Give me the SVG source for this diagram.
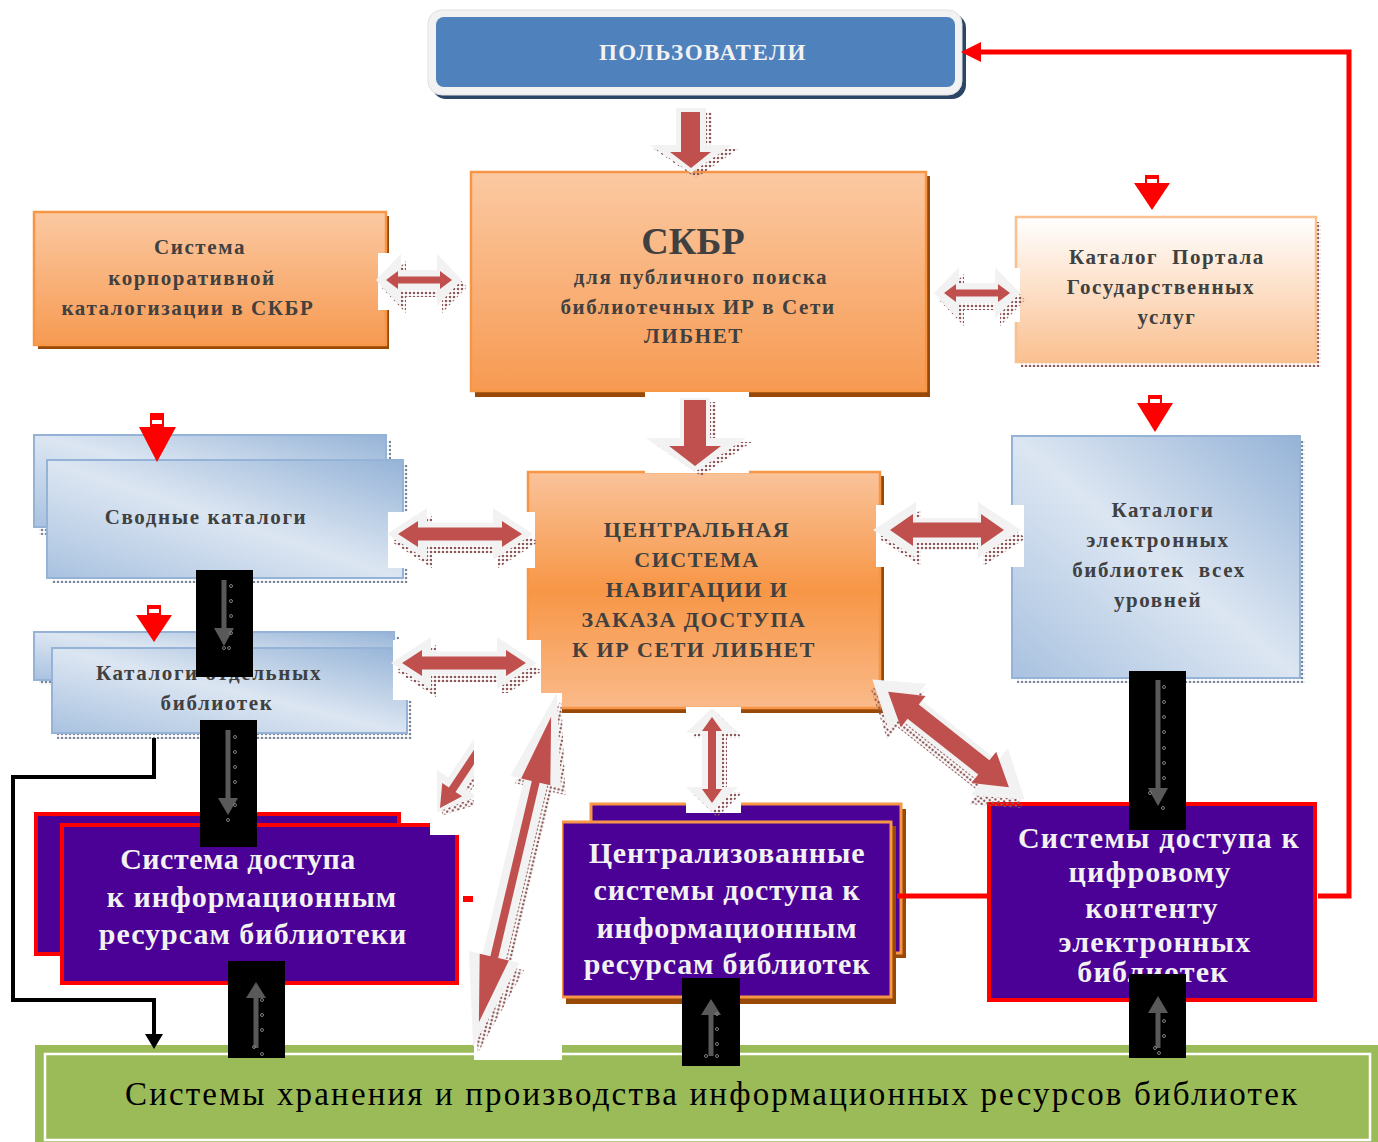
<svg xmlns="http://www.w3.org/2000/svg" width="1378" height="1142" viewBox="0 0 1378 1142">
<defs>
<style>
.t{font-family:"Liberation Serif","Times New Roman",serif;font-weight:bold;text-anchor:middle}
.g{fill:#404040;font-size:21px;letter-spacing:1.6px}
.c{font-size:22px;letter-spacing:1.5px}
.w{fill:#F2F2F2}
.wa{fill:#F2F2F2}
.ra{fill:#C0504D}
.sh{fill:url(#dots)}
.bk{fill:#000}
.ga{stroke:#595959;stroke-width:5;fill:none}
.gh{fill:#595959}
.gd{fill:none;stroke:#7F7F7F;stroke-width:1}
.pr{fill:#4B0096}
.rb{stroke:#FF0000;stroke-width:4}
</style>
<pattern id="dots" width="4" height="4" patternUnits="userSpaceOnUse"><circle cx="2" cy="2" r="1.3" fill="#8C5A5A"/></pattern>
<pattern id="bdots" width="4" height="4" patternUnits="userSpaceOnUse"><circle cx="2" cy="2" r="1.3" fill="#7A8597"/></pattern>
<linearGradient id="or1" x1="0" y1="0" x2="0" y2="1"><stop offset="0" stop-color="#FBC9A2"/><stop offset="1" stop-color="#F79A52"/></linearGradient>
<linearGradient id="or2" x1="0" y1="0" x2="0" y2="1"><stop offset="0" stop-color="#FAC39A"/><stop offset="0.5" stop-color="#F79646"/><stop offset="1" stop-color="#FABA8A"/></linearGradient>
<linearGradient id="or3" x1="0" y1="0" x2="0" y2="1"><stop offset="0" stop-color="#FFFFFF"/><stop offset="1" stop-color="#FAC090"/></linearGradient>
<linearGradient id="bl" x1="1" y1="0" x2="0" y2="1"><stop offset="0" stop-color="#95B3D7"/><stop offset="0.5" stop-color="#DCE6F2"/><stop offset="1" stop-color="#A9C2E0"/></linearGradient>
<clipPath id="c9"><rect x="430" y="728" width="44" height="107"/></clipPath>
</defs>

<!-- nodes -->
<g id="users">
<rect x="432" y="14" width="534" height="85" rx="14" fill="#2B4566"/>
<rect x="428" y="10" width="534" height="85" rx="14" fill="#F2F2F2" stroke="#E0E0E0" stroke-width="1"/>
<rect x="436" y="17" width="519" height="70" rx="8" fill="#4F81BD"/>
<text class="t" x="703" y="60" font-size="23" fill="#F2F2F2" letter-spacing="1.5">ПОЛЬЗОВАТЕЛИ</text>
</g>

<g id="skbr">
<rect x="475" y="176" width="455" height="221" fill="#984807"/>
<rect x="471" y="172" width="455" height="219" fill="url(#or1)" stroke="#F79646" stroke-width="2.5"/>
<text class="t" x="693" y="254" font-size="38" fill="#404040">СКБР</text>
<text class="t g" x="701" y="284">для публичного поиска</text>
<text class="t g" x="698" y="314">библиотечных ИР в Сети</text>
<text class="t g" x="694" y="343">ЛИБНЕТ</text>
</g>

<g id="corp">
<rect x="38" y="216" width="351" height="133" fill="#984807"/>
<rect x="34" y="212" width="352" height="133" fill="url(#or1)" stroke="#F79646" stroke-width="2.5"/>
<text class="t g" x="200" y="254">Система</text>
<text class="t g" x="192" y="285">корпоративной</text>
<text class="t g" x="188" y="315">каталогизации в СКБР</text>
</g>

<g id="portal">
<rect x="1021" y="222" width="300" height="145" fill="url(#dots)"/>
<rect x="1016" y="217" width="300" height="145" fill="url(#or3)" stroke="#FAC090" stroke-width="2.5"/>
<text class="t g" x="1167" y="264" xml:space="preserve">Каталог  Портала</text>
<text class="t g" x="1161" y="294">Государственных</text>
<text class="t g" x="1167" y="324">услуг</text>
</g>

<g id="svodnye">
<rect x="39" y="440" width="352" height="95" fill="url(#bdots)"/>
<rect x="34" y="435" width="352" height="92" fill="url(#bl)" stroke="#95B3D7" stroke-width="2"/>
<rect x="52" y="465" width="356" height="118" fill="url(#bdots)"/>
<rect x="47" y="460" width="356" height="118" fill="url(#bl)" stroke="#95B3D7" stroke-width="2"/>
<text class="t g" x="206" y="524">Сводные каталоги</text>
</g>

<g id="otdelnye">
<rect x="39" y="637" width="360" height="48" fill="url(#bdots)"/>
<rect x="34" y="632" width="360" height="48" fill="url(#bl)" stroke="#95B3D7" stroke-width="2"/>
<rect x="57" y="653" width="355" height="86" fill="url(#bdots)"/>
<rect x="52" y="648" width="355" height="85" fill="url(#bl)" stroke="#95B3D7" stroke-width="2"/>
<text class="t g" x="209" y="680">Каталоги отдельных</text>
<text class="t g" x="217" y="710">библиотек</text>
</g>

<g id="central">
<rect x="532" y="476" width="352" height="237" fill="#984807"/>
<rect x="528" y="472" width="352" height="236" fill="url(#or2)" stroke="#F79646" stroke-width="2.5"/>
<text class="t g c" x="697" y="537">ЦЕНТРАЛЬНАЯ</text>
<text class="t g c" x="697" y="567">СИСТЕМА</text>
<text class="t g c" x="697" y="597">НАВИГАЦИИ И</text>
<text class="t g c" x="694" y="627">ЗАКАЗА ДОСТУПА</text>
<text class="t g c" x="694" y="657">К ИР СЕТИ ЛИБНЕТ</text>
</g>

<g id="elektr">
<rect x="1017" y="441" width="288" height="242" fill="url(#bdots)"/>
<rect x="1012" y="436" width="288" height="242" fill="url(#bl)" stroke="#95B3D7" stroke-width="2"/>
<text class="t g" x="1163" y="517">Каталоги</text>
<text class="t g" x="1158" y="547">электронных</text>
<text class="t g" x="1159" y="577" xml:space="preserve">библиотек  всех</text>
<text class="t g" x="1158" y="607">уровней</text>
</g>

<g id="dostup-lib">
<rect x="36" y="814" width="363" height="140" class="pr rb"/>
<rect x="62" y="825" width="395" height="158" class="pr rb"/>
<text class="t w" x="238" y="869" font-size="30" letter-spacing="0.5">Система доступа</text>
<text class="t w" x="252" y="907" font-size="30" letter-spacing="1">к информационным</text>
<text class="t w" x="253" y="944" font-size="30" letter-spacing="1">ресурсам библиотеки</text>
</g>

<g id="central-dostup">
<rect x="596" y="809" width="310" height="149" fill="#984807"/>
<rect x="591" y="804" width="310" height="149" class="pr" stroke="#F79646" stroke-width="3"/>
<rect x="566" y="826" width="330" height="178" fill="#984807"/>
<rect x="562" y="822" width="329" height="175" class="pr" stroke="#F79646" stroke-width="3"/>
<text class="t w" x="727" y="863" font-size="30" letter-spacing="0.8">Централизованные</text>
<text class="t w" x="727" y="900" font-size="30" letter-spacing="0.8">системы доступа к</text>
<text class="t w" x="727" y="938" font-size="30" letter-spacing="0.8">информационным</text>
<text class="t w" x="727" y="974" font-size="30" letter-spacing="0.8">ресурсам библиотек</text>
</g>

<g id="digital">
<rect x="989" y="804" width="326" height="196" class="pr rb"/>
<text class="t w" x="1159" y="848" font-size="30" letter-spacing="1.2">Системы доступа к</text>
<text class="t w" x="1150" y="882" font-size="30" letter-spacing="1.2">цифровому</text>
<text class="t w" x="1152" y="918" font-size="30" letter-spacing="1.2">контенту</text>
<text class="t w" x="1155" y="952" font-size="30" letter-spacing="1.2">электронных</text>
<text class="t w" x="1153" y="982" font-size="30" letter-spacing="1.2">библиотек</text>
</g>

<g id="storage">
<rect x="35" y="1045" width="1343" height="97" fill="#9BBB59"/>
<rect x="45" y="1054" width="1325" height="86" fill="none" stroke="#FFFFFF" stroke-width="2.5"/>
<text x="711" y="1105" font-family="'Liberation Serif','Times New Roman',serif" font-size="33" fill="#000" text-anchor="middle" textLength="1172" lengthAdjust="spacing">Системы хранения и производства информационных ресурсов библиотек</text>
</g>

<!-- connectors -->
<g id="connectors">
<path d="M1318 896 H1349 V52 H978" fill="none" stroke="#FF0000" stroke-width="5"/>
<polygon points="961,52 981,42 981,62" fill="#FF0000"/>
<path d="M897 896 H990" stroke="#FF0000" stroke-width="5"/>
<rect x="463" y="896" width="10" height="6" fill="#FF0000"/>
<path d="M154 738 V777 H13 V1000 H154 V1036" fill="none" stroke="#000" stroke-width="4"/>
<polygon points="145,1034 163,1034 154,1049" fill="#000"/>

<g fill="#FF0000">
<rect x="1145" y="175" width="14" height="10"/><polygon points="1134,183 1170,183 1152,210"/>
<rect x="1148" y="395" width="14" height="10"/><polygon points="1137,403 1173,403 1155,432"/>
<rect x="150" y="413" width="14" height="15"/><polygon points="139,427 176,427 157,462"/>
<rect x="147" y="605" width="14" height="12"/><polygon points="136,615 172,615 154,642"/>
</g>
<g fill="#FFFFFF">
<rect x="1147" y="179" width="10" height="4"/>
<rect x="1150" y="399" width="10" height="4"/>
<rect x="152" y="420" width="10" height="4"/>
<rect x="149" y="609" width="10" height="4"/>
</g>

<g>
<path class="sh" d="M682 112 H712 V149 H738 L696 178 L654 149 H682Z"/>
<path class="wa" d="M676 108 H706 V145 H732 L691 173 L650 145 H676Z"/>
<path class="ra" d="M681 112 H700 V152 H711 L691 168 L670 152 H681Z"/>
</g>
<g>
<rect x="645" y="392" width="104" height="81" fill="#FFF"/>
<path class="sh" d="M686 402 H716 V442 H752 L701 476 L652 442 H686Z"/>
<path class="wa" d="M680 398 H710 V438 H746 L695 472 L646 438 H680Z"/>
<path class="ra" d="M684 400 H706 V446 H721 L695 466 L669 446 H684Z"/>
</g>

<g>
<rect x="378" y="253" width="87" height="57" fill="#FFF"/>
<g transform="translate(419,280)">
<path class="sh" transform="translate(5,7)" d="M-43 0 L-18 -26 L-18 -10 L18 -10 L18 -26 L43 0 L18 26 L18 10 L-18 10 L-18 26Z"/>
<path class="wa" d="M-43 0 L-18 -26 L-18 -10 L18 -10 L18 -26 L43 0 L18 26 L18 10 L-18 10 L-18 26Z"/>
<path class="ra" d="M-33 0 L-21 -9 L-21 -3.5 L21 -3.5 L21 -9 L33 0 L21 9 L21 3.5 L-21 3.5 L-21 9Z"/>
</g>
</g>
<g>
<rect x="935" y="268" width="85" height="54" fill="#FFF"/>
<g transform="translate(977,293)">
<path class="sh" transform="translate(5,7)" d="M-43 0 L-18 -26 L-18 -10 L18 -10 L18 -26 L43 0 L18 26 L18 10 L-18 10 L-18 26Z"/>
<path class="wa" d="M-43 0 L-18 -26 L-18 -10 L18 -10 L18 -26 L43 0 L18 26 L18 10 L-18 10 L-18 26Z"/>
<path class="ra" d="M-33 0 L-21 -9 L-21 -3.5 L21 -3.5 L21 -9 L33 0 L21 9 L21 3.5 L-21 3.5 L-21 9Z"/>
</g>
</g>
<g>
<rect x="388" y="512" width="147" height="56" fill="#FFF"/>
<g transform="translate(460,534)">
<path class="sh" transform="translate(5,8)" d="M-73 0 L-33 -26 L-33 -11.5 L33 -11.5 L33 -26 L73 0 L33 26 L33 11.5 L-33 11.5 L-33 26Z"/>
<path class="wa" d="M-73 0 L-33 -26 L-33 -11.5 L33 -11.5 L33 -26 L73 0 L33 26 L33 11.5 L-33 11.5 L-33 26Z"/>
<path class="ra" d="M-62 0 L-42 -13 L-42 -6.5 L42 -6.5 L42 -13 L62 0 L42 13 L42 6.5 L-42 6.5 L-42 13Z"/>
</g>
</g>
<g>
<rect x="393" y="640" width="148" height="60" fill="#FFF"/>
<g transform="translate(464,663)">
<path class="sh" transform="translate(5,8)" d="M-73 0 L-33 -26 L-33 -11.5 L33 -11.5 L33 -26 L73 0 L33 26 L33 11.5 L-33 11.5 L-33 26Z"/>
<path class="wa" d="M-73 0 L-33 -26 L-33 -11.5 L33 -11.5 L33 -26 L73 0 L33 26 L33 11.5 L-33 11.5 L-33 26Z"/>
<path class="ra" d="M-62 0 L-42 -13 L-42 -6.5 L42 -6.5 L42 -13 L62 0 L42 13 L42 6.5 L-42 6.5 L-42 13Z"/>
</g>
</g>
<g>
<rect x="876" y="505" width="148" height="62" fill="#FFF"/>
<g transform="translate(947,530)">
<path class="sh" transform="translate(5,8)" d="M-74 0 L-31 -28 L-31 -12 L31 -12 L31 -28 L74 0 L31 28 L31 12 L-31 12 L-31 28Z"/>
<path class="wa" d="M-74 0 L-31 -28 L-31 -12 L31 -12 L31 -28 L74 0 L31 28 L31 12 L-31 12 L-31 28Z"/>
<path class="ra" d="M-57 0 L-34 -16 L-34 -7.5 L34 -7.5 L34 -16 L57 0 L34 16 L34 7.5 L-34 7.5 L-34 16Z"/>
</g>
</g>
<g>
<rect x="686" y="707" width="55" height="106" fill="#FFF"/>
<g transform="translate(712,760) rotate(90)">
<path class="sh" transform="translate(5,-5)" d="M-52 0 L-27 -26 L-27 -10 L27 -10 L27 -26 L52 0 L27 26 L27 10 L-27 10 L-27 26Z"/>
<path class="wa" d="M-52 0 L-27 -26 L-27 -10 L27 -10 L27 -26 L52 0 L27 26 L27 10 L-27 10 L-27 26Z"/>
<path class="ra" d="M-43 0 L-29 -10 L-29 -4 L29 -4 L29 -10 L43 0 L29 10 L29 4 L-29 4 L-29 10Z"/>
</g>
</g>
<g transform="translate(948.5,739.5) rotate(38.3)">
<path class="sh" transform="translate(4,8)" d="M-97 0 L-52 -30 L-52 -14 L52 -14 L52 -30 L97 0 L52 30 L52 14 L-52 14 L-52 30Z"/>
<path class="wa" d="M-97 0 L-52 -30 L-52 -14 L52 -14 L52 -30 L97 0 L52 30 L52 14 L-52 14 L-52 30Z"/>
<path class="ra" d="M-77 0 L-45 -20 L-45 -9 L45 -9 L45 -20 L77 0 L45 20 L45 9 L-45 9 L-45 20Z"/>
</g>
<g>
<rect x="474" y="693" width="88" height="367" fill="#FFF"/>
<g transform="translate(515,869.5) rotate(-76.7)">
<path class="sh" transform="translate(-6,6)" d="M-182 0 L-90 -26 L-90 -12 L90 -12 L90 -26 L182 0 L90 26 L90 12 L-90 12 L-90 26Z"/>
<path class="wa" d="M-182 0 L-90 -26 L-90 -12 L90 -12 L90 -26 L182 0 L90 26 L90 12 L-90 12 L-90 26Z"/>
<path class="ra" d="M-157 0 L-90 -15 L-90 -4 L90 -4 L90 -15 L157 0 L90 15 L90 4 L-90 4 L-90 15Z"/>
</g>
</g>
<g>
<rect x="430" y="728" width="44" height="107" fill="#FFF"/>
<g clip-path="url(#c9)">
<g transform="translate(440,808) rotate(-56.3)">
<path class="sh" transform="translate(-5,6)" d="M0 0 L30 -24 L30 -10 L130 -10 L130 10 L30 10 L30 24Z"/>
<path class="wa" d="M-5 0 L30 -24 L30 -10 L130 -10 L130 10 L30 10 L30 24Z"/>
<path class="ra" d="M0 0 L22 -12 L22 -4 L130 -4 L130 4 L22 4 L22 12Z"/>
</g>
</g>
</g>

<g>
<rect class="bk" x="196" y="570" width="57" height="107"/>
<path class="ga" d="M224 580 V630"/><polygon class="gh" points="214,628 234,628 224,646"/>
<g class="gd"><circle cx="231" cy="586" r="1.5"/><circle cx="231" cy="601" r="1.5"/><circle cx="231" cy="616" r="1.5"/><circle cx="231" cy="633" r="1.5"/><circle cx="224" cy="648" r="1.5"/><circle cx="229" cy="648" r="1.5"/></g>
</g>
<g>
<rect class="bk" x="200" y="720" width="57" height="127"/>
<path class="ga" d="M228 730 V800"/><polygon class="gh" points="218,798 238,798 228,815"/>
<g class="gd"><circle cx="235" cy="737" r="1.5"/><circle cx="235" cy="752" r="1.5"/><circle cx="235" cy="767" r="1.5"/><circle cx="235" cy="782" r="1.5"/><circle cx="235" cy="805" r="1.5"/><circle cx="228" cy="820" r="1.5"/></g>
</g>
<g>
<rect class="bk" x="1129" y="671" width="57" height="159"/>
<path class="ga" d="M1158 680 V790"/><polygon class="gh" points="1148,788 1168,788 1158,806"/>
<g class="gd"><circle cx="1164" cy="687" r="1.5"/><circle cx="1164" cy="702" r="1.5"/><circle cx="1164" cy="717" r="1.5"/><circle cx="1164" cy="732" r="1.5"/><circle cx="1164" cy="748" r="1.5"/><circle cx="1164" cy="763" r="1.5"/><circle cx="1164" cy="778" r="1.5"/><circle cx="1150" cy="793" r="1.5"/><circle cx="1163" cy="808" r="1.5"/></g>
</g>
<g>
<rect class="bk" x="228" y="961" width="57" height="97"/>
<path class="ga" d="M256 1048 V995"/><polygon class="gh" points="246,998 266,998 256,982"/>
<g class="gd"><circle cx="262" cy="1000" r="1.5"/><circle cx="262" cy="1015" r="1.5"/><circle cx="262" cy="1030" r="1.5"/><circle cx="254" cy="1047" r="1.5"/><circle cx="262" cy="1054" r="1.5"/></g>
</g>
<g>
<rect class="bk" x="682" y="978" width="58" height="88"/>
<path class="ga" d="M711 1056 V1012"/><polygon class="gh" points="701,1015 721,1015 711,999"/>
<g class="gd"><circle cx="717" cy="1014" r="1.5"/><circle cx="717" cy="1029" r="1.5"/><circle cx="717" cy="1044" r="1.5"/><circle cx="706" cy="1056" r="1.5"/><circle cx="717" cy="1056" r="1.5"/></g>
</g>
<g>
<rect class="bk" x="1129" y="974" width="57" height="84"/>
<path class="ga" d="M1158 1048 V1010"/><polygon class="gh" points="1148,1013 1168,1013 1158,996"/>
<g class="gd"><circle cx="1164" cy="1021" r="1.5"/><circle cx="1164" cy="1036" r="1.5"/><circle cx="1155" cy="1048" r="1.5"/><circle cx="1159" cy="1053" r="1.5"/></g>
</g>
</g>
</svg>
